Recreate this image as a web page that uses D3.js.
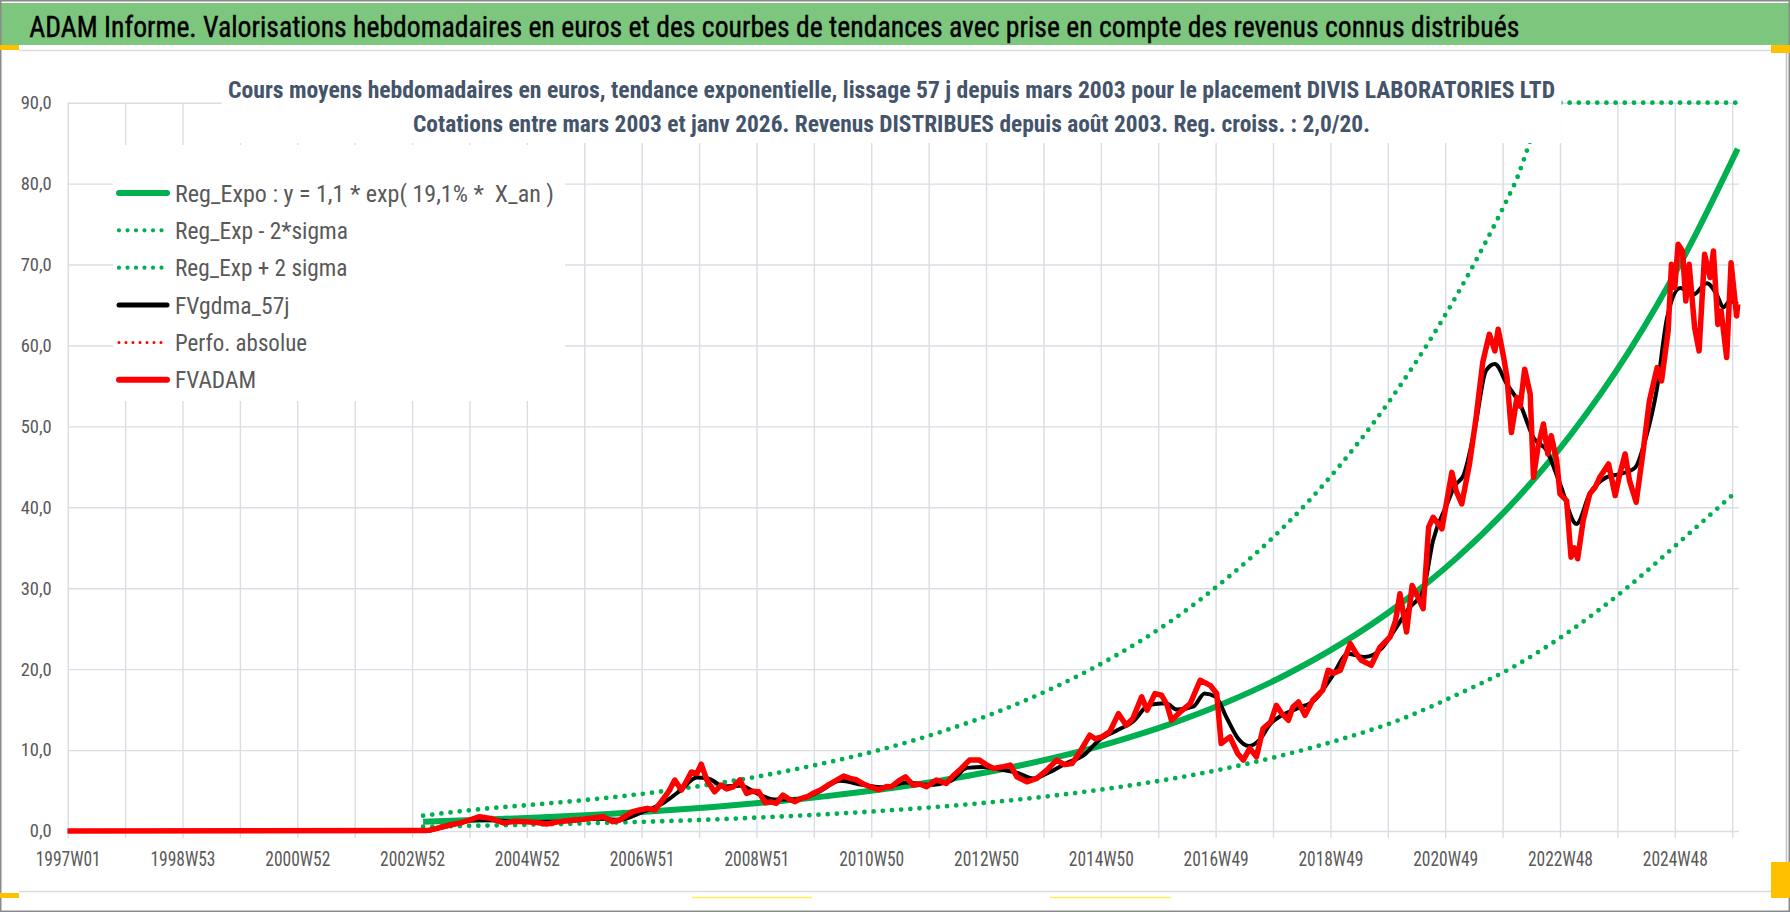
<!DOCTYPE html>
<html>
<head>
<meta charset="utf-8">
<script src="https://cdn.jsdelivr.net/npm/d3@7"></script>
<style>
  body { margin: 0; background: #fff; }
  svg { display: block; }
</style>
</head>
<body>
<svg id="chart" width="1790" height="912"></svg>
<script>
// ---- data (week index counted from 1997W01) ----
const xTickLabels = ["1997W01","1998W53","2000W52","2002W52","2004W52","2006W51","2008W51",
  "2010W50","2012W50","2014W50","2016W49","2018W49","2020W49","2022W48","2024W48"];
const yTicks = [0,10,20,30,40,50,60,70,80,90];

const legendLabels = ["Reg_Expo : y = 1,1 * exp( 19,1% *  X_an )", "Reg_Exp - 2*sigma",
  "Reg_Exp + 2 sigma", "FVgdma_57j", "Perfo. absolue", "FVADAM"];

const fvadamWeek = [
  0,325,331,346,356,364,373,383,395,405,
  416,425,434,443,452,467,476,485,494,500,
  506,512,518,525,532,540,545,550,556,560,
  565,570,574,579,586,592,597,603,609,615,
  620,626,632,637,642,648,654,659,664,670,
  676,682,688,694,703,709,715,721,727,735,
  742,746,754,759,766,772,778,787,796,802,
  808,817,826,832,839,846,854,860,869,878,
  887,896,903,910,917,926,931,937,944,952,
  959,965,973,978,985,991,996,1000,1008,1017,
  1026,1035,1041,1045,1053,1060,1065,1071,1077,1083,
  1090,1095,1100,1106,1110,1115,1121,1128,1137,1142,
  1147,1153,1162,1167,1172,1181,1189,1198,1203,1207,
  1213,1218,1223,1228,1233,1237,1245,1254,1258,1263,
  1270,1276,1282,1288,1293,1296,1301,1304,1308,1313,
  1316,1320,1325,1328,1332,1337,1341,1344,1349,1352,
  1358,1362,1365,1368,1373,1379,1384,1388,1396,1402,
  1406,1411,1415,1421,1427,1433,1440,1444,1450,1453,
  1456,1459,1463,1466,1469,1474,1478,1483,1488,1491,
  1495,1498,1503,1507,1512,1513];
const fvadamValue = [
  0,0.05,0.2,0.74,1.0,1.36,1.77,1.56,1.0,1.2,
  1.15,1.05,0.86,1.1,1.27,1.44,1.6,1.77,1.15,1.36,
  1.9,2.38,2.6,2.8,2.6,4.03,5.0,6.3,5.06,6.0,
  7.3,7.1,8.26,6.3,4.85,5.67,5.2,5.46,6.3,4.65,
  4.9,4.85,3.49,3.6,3.41,4.44,3.9,3.62,4.0,4.23,
  4.7,5.06,5.6,6.08,6.78,6.5,6.3,5.8,5.46,5.1,
  5.5,5.46,6.3,6.7,5.67,5.8,5.46,6.3,5.88,6.8,
  7.52,8.76,8.76,8.2,7.73,7.9,8.14,6.7,6.08,6.5,
  7.52,8.76,8.2,8.35,9.78,11.84,11.4,11.63,12.25,14.5,
  13.07,13.9,16.57,14.93,16.98,16.78,15.6,13.69,14.72,15.75,
  18.63,18.0,16.98,10.82,11.63,9.58,8.76,10.2,9.17,12.67,
  13.5,15.54,14.5,13.69,15.33,15.95,14.3,16.16,17.39,19.86,
  19.5,19.86,23.15,22.0,21.09,20.48,22.73,23.97,26.0,29.32,
  24.59,30.34,29.0,27.47,37.54,38.77,37.33,44.32,42.0,40.42,
  45.36,51.1,57.9,61.39,59.33,62.0,58.5,56.04,49.25,53.57,
  52.5,57.07,54.0,43.7,47.4,50.29,46.59,48.85,45.76,41.66,
  40.83,33.84,35.0,33.64,38.36,41.66,42.5,43.7,45.36,41.45,
  44.0,46.59,43.3,40.62,46.59,53.16,57.27,55.63,61.8,70.03,
  67.14,72.5,71.67,65.5,70.03,62.19,59.33,71.26,68.39,71.67,
  62.6,64.26,58.5,70.23,63.64,65.09];

const fvgdmaWeek = [
  0,325,335,350,370,390,420,450,480,500,
  520,540,555,570,580,595,610,625,640,660,
  680,700,720,740,760,780,800,815,830,845,
  860,875,890,905,920,935,950,965,980,995,
  1005,1020,1030,1040,1050,1060,1070,1080,1090,1100,
  1115,1130,1145,1160,1175,1190,1200,1215,1228,1237,
  1250,1256,1265,1275,1285,1293,1304,1316,1328,1340,
  1352,1367,1379,1394,1406,1420,1429,1440,1449,1461,
  1473,1485,1494,1500,1506,1513];
const fvgdmaValue = [
  0,0,0.3,0.8,1.4,1.3,1.1,1.2,1.5,1.4,
  2.3,3.5,5.0,6.6,6.5,5.5,5.6,4.6,3.9,3.9,
  4.8,6.2,5.7,5.4,6.0,5.7,6.2,7.8,7.9,7.6,
  7.2,6.5,7.3,8.4,9.3,11.3,12.4,13.5,15.6,15.8,
  15.0,15.4,17.0,16.6,14.0,11.5,10.5,11.3,13.3,14.3,
  15.2,16.2,19.0,21.9,21.5,22.5,24.4,27.5,29.7,35.9,
  40.5,42.5,44.1,49.8,56.9,57.7,55.2,52.7,48.6,47.0,
  42.9,37.95,41.7,43.7,44.1,44.9,48.2,54.8,63.4,67.1,
  66.3,67.7,66.3,64.7,65.5,65.1];

const trendWeek = [322,374,426,478,530,582,634,686,738,790,842,894,
  946,998,1050,1102,1154,1206,1258,1310,1362,1414,1466,1513];
const regExpo = [1.15,1.39,1.67,2.02,2.44,2.94,3.55,4.28,5.16,6.22,7.51,9.06,
  10.93,13.18,15.91,19.19,23.15,27.93,33.69,40.65,49.03,59.16,71.37,84.3];
const regLow = [0.53,0.66,0.8,0.97,1.17,1.41,1.71,2.06,2.49,3.0,3.62,4.38,
  5.3,6.4,7.75,9.4,11.35,13.7,16.8,20.3,24.8,30.2,36.4,42.1];
const highWeek = [322,374,426,478,530,582,634,686,738,790,842,894,
  946,998,1050,1102,1154,1206,1258,1310,1344,1362,1414,1466,1513];
const regHigh = [1.9,2.7,3.3,3.95,4.75,5.75,6.95,8.4,10.1,12.2,14.7,17.75,
  21.4,25.8,31.2,37.6,45.4,54.8,66.1,79.7,90,90,90,90,90];

// ---- setup ----
const FONT = "'Liberation Sans Narrow','Roboto Condensed','DejaVu Sans Condensed','Liberation Sans',sans-serif";
const GRID = "#d9dde4";
const GREEN = "#00b050";
const lastWeek = 1513;

const svg = d3.select("#chart");

const x = d3.scaleLinear().domain([0, lastWeek]).range([67.7, 1737.7]);
const y = d3.scaleLinear().domain([0, 90]).range([831, 102.7]);
const plotRight = 1739;

const fr = d3.formatLocale({decimal: ",", thousands: " ", grouping: [3], currency: ["", " €"]});

// frame and header band
svg.append("rect").attr("width", 1790).attr("height", 912).attr("fill", "#fff");
svg.append("rect").attr("x", 1).attr("y", 3).attr("width", 1788).attr("height", 42).attr("fill", "#7dc67e");
svg.append("line").attr("x1", 19).attr("x2", 1771).attr("y1", 50.5).attr("y2", 50.5)
  .attr("stroke", "#dcdcdc").attr("stroke-width", 1.5);
svg.append("line").attr("x1", 1786.5).attr("x2", 1786.5).attr("y1", 50).attr("y2", 892)
  .attr("stroke", "#bfbfbf").attr("stroke-width", 1.5);
svg.append("line").attr("x1", 19).attr("x2", 1771).attr("y1", 891.5).attr("y2", 891.5)
  .attr("stroke", "#dcdcdc").attr("stroke-width", 1.5);
svg.append("rect").attr("x", 0.75).attr("y", 0.75).attr("width", 1788.5).attr("height", 910.5)
  .attr("fill", "none").attr("stroke", "#8a8a8a").attr("stroke-width", 1.5);

// selection handles of the spreadsheet
[[0,45,19,5],[1771,45,19,8],[0,893,19,5],[1771,862,19,36]].forEach(r => {
  svg.append("rect").attr("x", r[0]).attr("y", r[1]).attr("width", r[2]).attr("height", r[3]).attr("fill", "#ffc000");
});
[[692,812],[1050,1171]].forEach(r => {
  svg.append("line").attr("x1", r[0]).attr("x2", r[1]).attr("y1", 897.5).attr("y2", 897.5)
    .attr("stroke", "#ffee55").attr("stroke-width", 1.5);
});

svg.append("text")
  .attr("x", 29.3).attr("y", 36.5)
  .attr("font-family", FONT).attr("font-size", 29).attr("fill", "#000")
  .attr("stroke", "#000").attr("stroke-width", 0.4)
  .attr("textLength", 1490).attr("lengthAdjust", "spacingAndGlyphs")
  .text("ADAM Informe. Valorisations hebdomadaires en euros et des courbes de tendances avec prise en compte des revenus connus distribués");

// ---- gridlines ----
const gridWeeks = d3.range(0, lastWeek, 52);
const labelWeeks = d3.range(0, lastWeek, 104);

const gy = svg.append("g").attr("transform", `translate(${x(0)},0)`)
  .call(d3.axisLeft(y).tickValues(yTicks).tickSize(-(plotRight - x(0))).tickFormat(""));
gy.select(".domain").remove();
gy.selectAll(".tick line").attr("stroke", GRID).attr("stroke-width", 1.4);

const gx = svg.append("g").attr("transform", `translate(0,${y(0)})`)
  .call(d3.axisBottom(x).tickValues(gridWeeks).tickSize(-(y(0) - y(90))).tickFormat(""));
gx.select(".domain").remove();
gx.selectAll(".tick line").attr("y1", 7).attr("stroke", GRID).attr("stroke-width", 1.4);

// axis labels
const ax = svg.append("g").attr("transform", `translate(0,${y(0)})`)
  .call(d3.axisBottom(x).tickValues(labelWeeks).tickSize(0).tickPadding(21)
    .tickFormat((d, i) => xTickLabels[i]));
ax.select(".domain").remove();
ax.selectAll("text").attr("font-family", FONT).attr("font-size", 20).attr("fill", "#595959")
  .attr("textLength", 65).attr("lengthAdjust", "spacingAndGlyphs");

const ay = svg.append("g").attr("transform", `translate(${x(0)},0)`)
  .call(d3.axisLeft(y).tickValues(yTicks).tickSize(0).tickPadding(16).tickFormat(fr.format(".1f")));
ay.select(".domain").remove();
ay.selectAll("text").attr("font-family", FONT).attr("font-size", 18.5).attr("fill", "#595959");

// ---- series ----
const line = d3.line().x(d => x(d[0])).y(d => y(d[1]));
const smooth = d3.line().x(d => x(d[0])).y(d => y(d[1])).curve(d3.curveMonotoneX);

const series = svg.append("g").attr("fill", "none").attr("stroke-linejoin", "round");

series.append("path").datum(d3.zip(trendWeek, regExpo)).attr("d", smooth)
  .attr("stroke", GREEN).attr("stroke-width", 6);
series.append("path").datum(d3.zip(trendWeek, regLow)).attr("d", smooth)
  .attr("stroke", GREEN).attr("stroke-width", 4.8).attr("stroke-linecap", "round").attr("stroke-dasharray", "0 9.2");
series.append("path").datum(d3.zip(highWeek, regHigh)).attr("d", smooth)
  .attr("stroke", GREEN).attr("stroke-width", 4.8).attr("stroke-linecap", "round").attr("stroke-dasharray", "0 9.2");
series.append("path").datum(d3.zip(fvgdmaWeek, fvgdmaValue)).attr("d", smooth)
  .attr("stroke", "#000").attr("stroke-width", 4);
series.append("path").datum(d3.zip(fvadamWeek, fvadamValue)).attr("d", line)
  .attr("stroke", "#ff0000").attr("stroke-width", 5.5);

// ---- chart title box ----
svg.append("rect").attr("x", 221.5).attr("y", 56).attr("width", 1340).attr("height", 87).attr("fill", "#fff");
const subtitle = [
  {t: "Cours moyens hebdomadaires en euros, tendance exponentielle, lissage 57 j depuis mars 2003 pour le placement DIVIS LABORATORIES LTD", y: 98.3, w: 1327},
  {t: "Cotations entre mars 2003 et janv 2026. Revenus DISTRIBUES depuis août 2003. Reg. croiss. : 2,0/20.", y: 131.7, w: 957}
];
svg.append("g").selectAll("text").data(subtitle).join("text")
  .attr("x", 891.5).attr("y", d => d.y).attr("text-anchor", "middle")
  .attr("font-family", FONT).attr("font-size", 24).attr("font-weight", "bold").attr("fill", "#44546a")
  .attr("textLength", d => d.w).attr("lengthAdjust", "spacingAndGlyphs")
  .text(d => d.t);

// ---- legend ----
const legendStyles = [
  {color: GREEN, width: 6, dash: null},
  {color: GREEN, width: 4.2, dash: "0 8.5"},
  {color: GREEN, width: 4.2, dash: "0 8.5"},
  {color: "#000", width: 5, dash: null},
  {color: "#ff0000", width: 3, dash: "0 7"},
  {color: "#ff0000", width: 6, dash: null}
];
const legendWidths = [379, 173, 172.5, 114.6, 132, 81];
const legend = svg.append("g");
legend.append("rect").attr("x", 113).attr("y", 145).attr("width", 452).attr("height", 256).attr("fill", "#fff");
const items = legend.selectAll("g.item").data(legendLabels).join("g")
  .attr("class", "item")
  .attr("transform", (d, i) => `translate(0,${193 + i * 37.35})`);
items.append("line")
  .attr("x1", 119).attr("x2", 167).attr("y1", 0).attr("y2", 0)
  .attr("stroke", (d, i) => legendStyles[i].color)
  .attr("stroke-width", (d, i) => legendStyles[i].width)
  .attr("stroke-linecap", "round")
  .attr("stroke-dasharray", (d, i) => legendStyles[i].dash);
items.append("text")
  .attr("x", 175).attr("y", 8.5)
  .attr("font-family", FONT).attr("font-size", 23.5).attr("fill", "#595959")
  .style("white-space", "pre")
  .attr("textLength", (d, i) => legendWidths[i]).attr("lengthAdjust", "spacingAndGlyphs")
  .text(d => d);
</script>
</body>
</html>
